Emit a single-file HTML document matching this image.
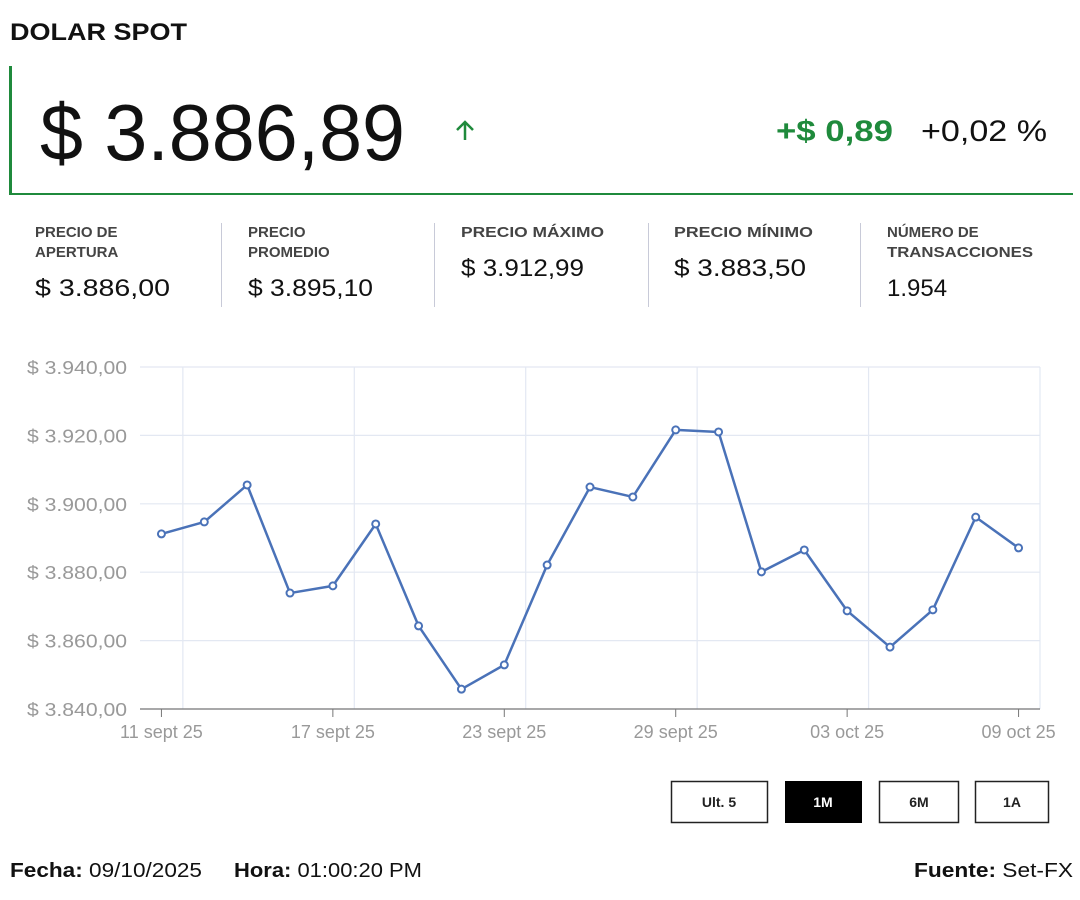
<!DOCTYPE html>
<html><head><meta charset="utf-8"><style>
html,body{margin:0;padding:0;background:#fff;}
svg{display:block;font-family:"Liberation Sans",sans-serif;}
</style></head><body>
<svg id="root" width="1080" height="900" viewBox="0 0 1080 900" xmlns="http://www.w3.org/2000/svg">
<text x="10" y="40" font-size="24" font-weight="bold" fill="#111" textLength="177" lengthAdjust="spacingAndGlyphs">DOLAR SPOT</text>
<g>
<rect x="9" y="66" width="3" height="129" fill="#1f8a3c"/>
<rect x="9" y="193" width="1064" height="2" fill="#1f8a3c"/>
<text x="40" y="160" font-size="80" fill="#111" textLength="365" lengthAdjust="spacingAndGlyphs">$ 3.886,89</text>
<path d="M465 140 V122 M457 130 L465 122 L473 130" stroke="#1f8a3c" stroke-width="2.5" fill="none"/>
<text x="776" y="141" font-size="30" font-weight="bold" fill="#1f8a3c" textLength="117" lengthAdjust="spacingAndGlyphs">+$ 0,89</text>
<text x="921" y="141" font-size="30" fill="#111" textLength="126" lengthAdjust="spacingAndGlyphs">+0,02 %</text>
</g>
<g fill="#444" font-size="15" font-weight="bold">
<text x="35" y="237">PRECIO DE</text>
<text x="35" y="257">APERTURA</text>
<text x="35" y="296" font-size="24" font-weight="normal" fill="#111" textLength="135" lengthAdjust="spacingAndGlyphs">$ 3.886,00</text>
<rect x="221" y="223" width="1" height="84" fill="#c8cad8"/>
<text x="248" y="237">PRECIO</text>
<text x="248" y="257">PROMEDIO</text>
<text x="248" y="296" font-size="24" font-weight="normal" fill="#111" textLength="125" lengthAdjust="spacingAndGlyphs">$ 3.895,10</text>
<rect x="434" y="223" width="1" height="84" fill="#c8cad8"/>
<text x="461" y="237" textLength="143" lengthAdjust="spacingAndGlyphs">PRECIO MÁXIMO</text>
<text x="461" y="276" font-size="24" font-weight="normal" fill="#111" textLength="123" lengthAdjust="spacingAndGlyphs">$ 3.912,99</text>
<rect x="648" y="223" width="1" height="84" fill="#c8cad8"/>
<text x="674" y="237" textLength="139" lengthAdjust="spacingAndGlyphs">PRECIO MÍNIMO</text>
<text x="674" y="276" font-size="24" font-weight="normal" fill="#111" textLength="132" lengthAdjust="spacingAndGlyphs">$ 3.883,50</text>
<rect x="860" y="223" width="1" height="84" fill="#c8cad8"/>
<text x="887" y="237">NÚMERO DE</text>
<text x="887" y="257" textLength="146" lengthAdjust="spacingAndGlyphs">TRANSACCIONES</text>
<text x="887" y="296" font-size="24" font-weight="normal" fill="#111">1.954</text>
</g>
<g id="chart"></g>
<g font-size="14" font-weight="bold" text-anchor="middle">
<rect x="671.5" y="781.5" width="96" height="41" fill="#fff" stroke="#222" stroke-width="1.5"/>
<text x="719" y="807" fill="#222">Ult. 5</text>
<rect x="785" y="781" width="77" height="42" fill="#000"/>
<text x="823" y="807" fill="#fff">1M</text>
<rect x="879.5" y="781.5" width="79" height="41" fill="#fff" stroke="#222" stroke-width="1.5"/>
<text x="919" y="807" fill="#222">6M</text>
<rect x="975.5" y="781.5" width="73" height="41" fill="#fff" stroke="#222" stroke-width="1.5"/>
<text x="1012" y="807" fill="#222">1A</text>
</g>
<g font-size="20" fill="#111">
<text x="10" y="877" textLength="192" lengthAdjust="spacingAndGlyphs"><tspan font-weight="bold">Fecha:</tspan> 09/10/2025</text>
<text x="234" y="877" textLength="188" lengthAdjust="spacingAndGlyphs"><tspan font-weight="bold">Hora:</tspan> 01:00:20 PM</text>
<text x="914" y="877" textLength="159" lengthAdjust="spacingAndGlyphs"><tspan font-weight="bold">Fuente:</tspan> Set-FX</text>
</g>
</svg>
<script>
const values = [3891.2,3894.7,3905.5,3873.9,3876.0,3894.1,3864.3,3845.8,3852.9,3882.1,3904.9,3902.0,3921.6,3921.0,3880.1,3886.5,3868.7,3858.1,3869.0,3896.1,3887.1];
const yTicks = [3840,3860,3880,3900,3920,3940];
const yTickLabels = ["$ 3.840,00","$ 3.860,00","$ 3.880,00","$ 3.900,00","$ 3.920,00","$ 3.940,00"];
const xTickIndex = [0,4,8,12,16,20];
const xTickLabels = ["11 sept 25","17 sept 25","23 sept 25","29 sept 25","03 oct 25","09 oct 25"];

const NS = "http://www.w3.org/2000/svg";
const L = 140, R = 1040, T = 367, B = 709;
const n = values.length;
const x = i => L + (i + 0.5) * (R - L) / n;
const y = v => B - (v - yTicks[0]) / (yTicks[yTicks.length-1] - yTicks[0]) * (B - T);
const g = document.getElementById('chart');
function mk(tag, attrs){ const e = document.createElementNS(NS, tag); for (const k in attrs) e.setAttribute(k, attrs[k]); g.appendChild(e); return e; }

yTicks.forEach((t, k) => {
  const ln = mk('line', {x1:L, x2:R, y1:y(t), y2:y(t), stroke:'#e3e8f2', 'stroke-width':1.2});
  
  
  const tx = mk('text', {x:127, y:y(t)+7, 'text-anchor':'end', 'font-size':18, fill:'#999', textLength:100, lengthAdjust:'spacingAndGlyphs'});
  
  
  tx.textContent = yTickLabels[k];
});
xTickIndex.forEach((i, k) => {
  if (k < xTickIndex.length - 1) {
    const gx = x(i + 0.5);
    const ln = mk('line', {x1:gx, x2:gx, y1:T, y2:B, stroke:'#e3e8f2', 'stroke-width':1.2});
    
    
  }
  const tk = mk('line', {x1:x(i), x2:x(i), y1:B, y2:B+8, stroke:'#777', 'stroke-width':1});
  
  
  const tx = mk('text', {x:x(i), y:738, 'text-anchor':'middle', 'font-size':18, fill:'#999'});
  
  
  tx.textContent = xTickLabels[k];
});
const rb = mk('line', {x1:R, x2:R, y1:T, y2:B, stroke:'#e3e8f2', 'stroke-width':1.2});


const ax = mk('line', {x1:L, x2:R, y1:B, y2:B, stroke:'#777', 'stroke-width':1.2});


const pl = mk('polyline', {points: values.map((v,i)=>x(i)+','+y(v)).join(' '), fill:'none', stroke:'#4a72b8', 'stroke-width':2.5, 'stroke-linejoin':'round'});


values.forEach((v,i) => {
  const c = mk('circle', {cx:x(i), cy:y(v), r:3.5, fill:'#fff', stroke:'#4a72b8', 'stroke-width':2});
  
  
});
</script>
</body></html>
